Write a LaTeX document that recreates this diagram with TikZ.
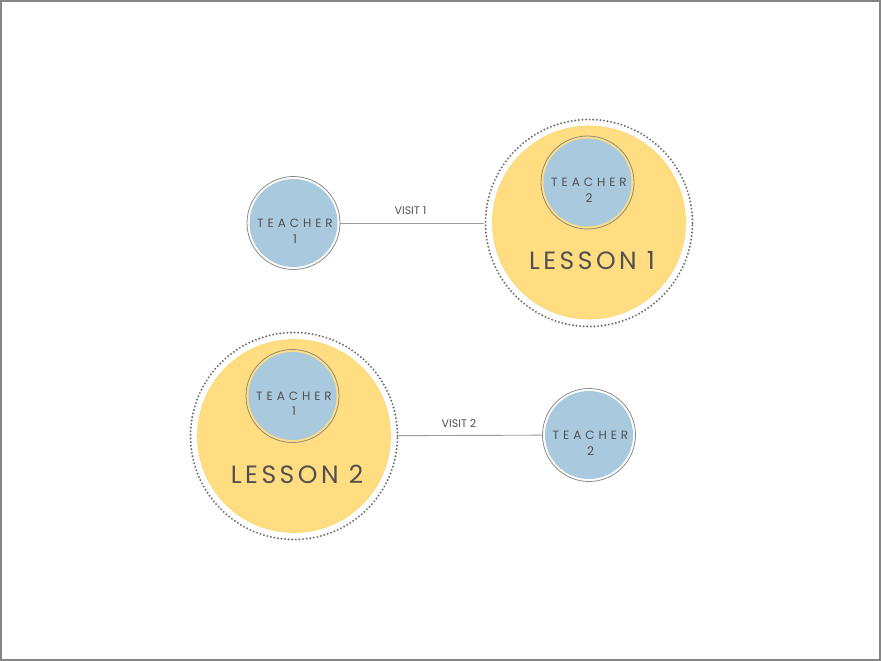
\documentclass[tikz,border=0pt]{standalone}
\usepackage{fontspec}
\newfontfamily\spacedfont[LetterSpace=33]{Poppins}
\newfontfamily\lessonfont[LetterSpace=14]{Poppins}
\newfontfamily\visitfont{Poppins}
\definecolor{tblue}{HTML}{A9C9DF}
\definecolor{lyellow}{HTML}{FFDD80}
\definecolor{lyedge}{HTML}{F8D46A}
\definecolor{ringgray}{HTML}{8A8A8A}
\definecolor{dotgray}{HTML}{6E6E6E}
\definecolor{linegray}{HTML}{9A9A9A}
\definecolor{txtgray}{HTML}{505050}
\definecolor{framegray}{HTML}{858585}
\tikzset{
  teacher/.style={circle, minimum size=93pt, inner sep=0pt, draw=ringgray, line width=0.8pt,
    path picture={\fill[tblue] (path picture bounding box.center) circle (44pt);}},
  teachertext/.style={font=\spacedfont\fontsize{12}{15.5}\selectfont, text=txtgray, align=center, inner sep=0pt},
  lesson/.style={circle, minimum size=193pt, inner sep=0pt, fill=lyellow, draw=lyedge, line width=0.6pt},
  dotring/.style={circle, minimum size=207pt, inner sep=0pt, draw=dotgray, line width=2.2pt,
    dash pattern=on 0pt off 3.6pt, line cap=round},
  lessontext/.style={font=\lessonfont\fontsize{25}{28}\selectfont, text=txtgray, inner sep=0pt},
  visittext/.style={font=\visitfont\fontsize{11}{13}\selectfont, text=txtgray, inner sep=0pt},
  connector/.style={draw=linegray, line width=0.9pt}
}
\begin{document}
\begin{tikzpicture}[x=1pt,y=-1pt]
\useasboundingbox (0,0) rectangle (881,661);
\draw[framegray, line width=2.2pt] (1.1,1.1) rectangle (879.9,659.9);

% Lesson 1
\node[dotring] (L1) at (589,223) {};
\node[lesson] (L1y) at (589,222.5) {};
\node[teacher] (T2in) at (587.5,182.5) {};
\node[teachertext] (T2intext) at (589,190.5) {TEACHER\\2};
\node[lessontext] (L1text) at (592,261) {LESSON 1};

% Lesson 2
\node[dotring] (L2) at (294,436) {};
\node[lesson] (L2y) at (294,436) {};
\node[teacher] (T1in) at (292.5,396) {};
\node[teachertext] (T1intext) at (294,404) {TEACHER\\1};
\node[lessontext] (L2text) at (297,474) {LESSON 2};

% Standalone teachers
\node[teacher] (T1) at (293.5,223) {};
\node[teachertext] (T1text) at (295,231.5) {TEACHER\\1};
\node[teacher] (T2) at (589,435) {};
\node[teachertext] (T2text) at (590.5,443.5) {TEACHER\\2};

% Connectors
\draw[connector] (T1) -- (L1);
\draw[connector] (L2) -- (T2);
\node[visittext] (V1) at (410.5,210.5) {VISIT 1};
\node[visittext] (V2) at (459,423) {VISIT 2};
\end{tikzpicture}
\end{document}
